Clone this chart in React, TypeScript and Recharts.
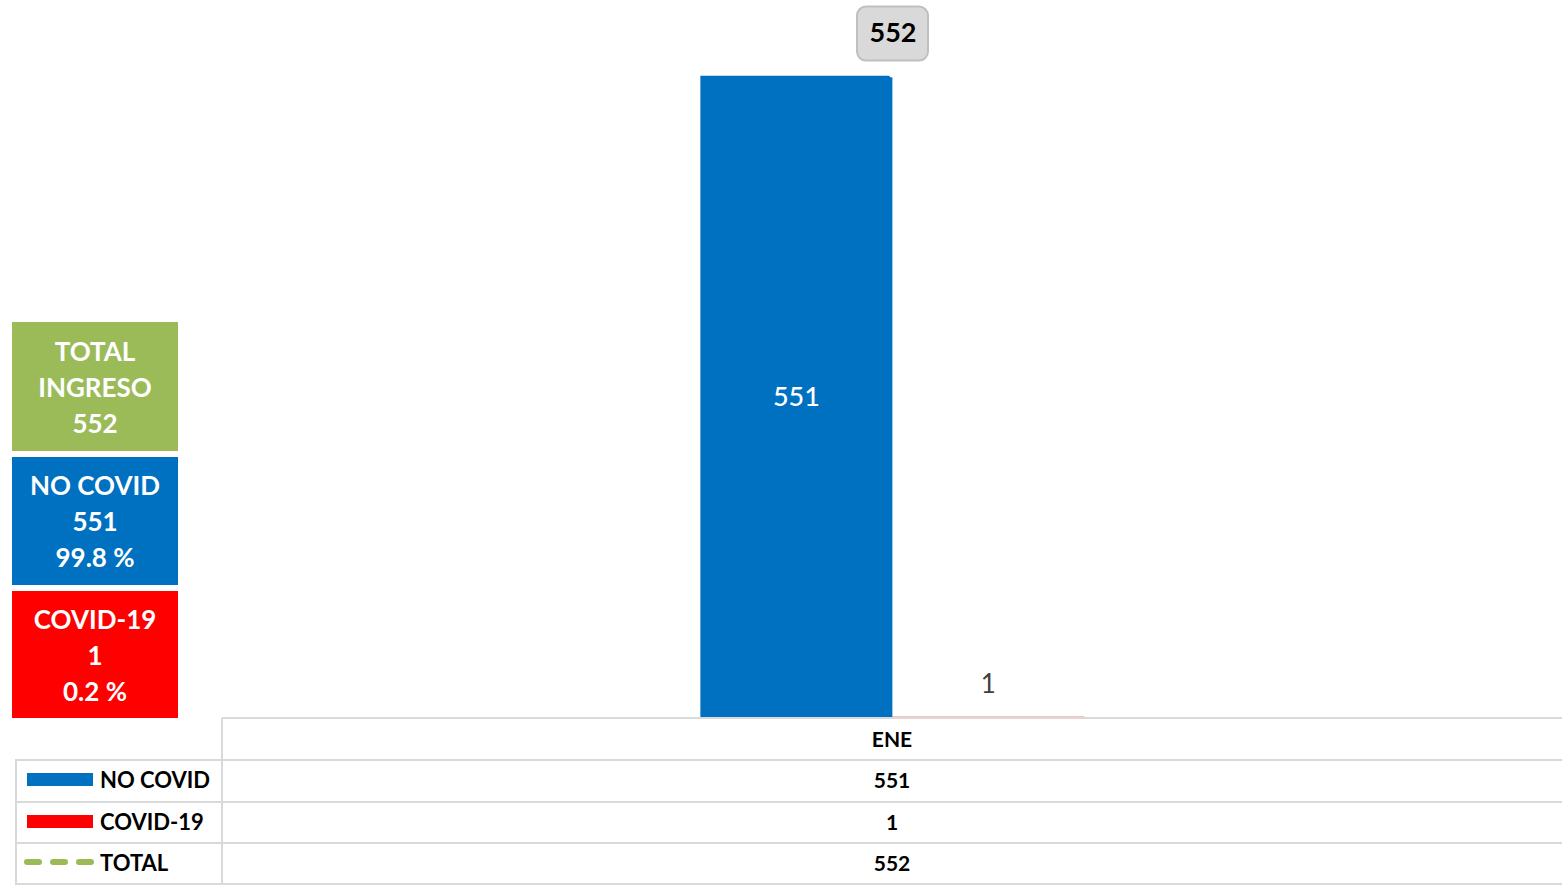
import { ComposedChart, Bar, Line, XAxis, YAxis, LabelList } from 'recharts'

const categories = ['ENE']
const noCovid = [551]
const covid = [1]
const total = [552]

const BLUE = '#0070C0'
const RED = '#FF0000'
const GREEN = '#9BBB59'
const FONT = 'Lato, "Open Sans", sans-serif'
const GRID = '#d9d9d9'

const data = categories.map((month, i) => ({
  month,
  noCovid: noCovid[i],
  covid: covid[i],
  total: total[i],
}))

const sumTotal = total.reduce((a, b) => a + b, 0)
const sumNo = noCovid.reduce((a, b) => a + b, 0)
const sumCovid = covid.reduce((a, b) => a + b, 0)
const pct = (v: number) => `${((v / sumTotal) * 100).toFixed(1)} %`

function TotalBadge(props: any) {
  const { x, y, value } = props
  const cy = y - 41
  return (
    <g>
      <rect x={x - 35} y={cy - 27} width={71} height={54} rx={9} fill="#d9d9d9" stroke="#bfbfbf" strokeWidth={2} />
      <text x={x + 1} y={cy + 1} textAnchor="middle" dominantBaseline="middle" fontFamily={FONT} fontWeight={700} fontSize={27} fill="#000">
        {value}
      </text>
    </g>
  )
}

function SmallLabel(props: any) {
  const { x, y, width, value } = props
  return (
    <text x={x + width / 2} y={y - 30} textAnchor="middle" dominantBaseline="middle" fontFamily={FONT} fontSize={26} fill="#404040">
      {value}
    </text>
  )
}

const boxStyle = (bg: string, top: number, h: number): React.CSSProperties => ({
  position: 'absolute',
  left: 12,
  top,
  width: 166,
  height: h,
  background: bg,
  color: '#fff',
  fontFamily: FONT,
  fontWeight: 700,
  fontSize: 26,
  lineHeight: '36px',
  textAlign: 'center',
  display: 'flex',
  flexDirection: 'column',
  justifyContent: 'center',
})

const rows = [
  { name: 'NO COVID', values: noCovid, swatch: 'bar', color: BLUE },
  { name: 'COVID-19', values: covid, swatch: 'bar', color: RED },
  { name: 'TOTAL', values: total, swatch: 'dash', color: GREEN },
]

export default function App() {
  return (
    <div style={{ position: 'absolute', left: 0, top: 0, width: 1562, height: 886, background: '#fff', overflow: 'hidden' }}>
      <ComposedChart
        width={1562}
        height={886}
        data={data}
        margin={{ top: 0, right: 0, left: 222, bottom: 126 }}
        barCategoryGap="35.7%"
        barGap={0}
      >
        <XAxis
          dataKey="month"
          axisLine={{ stroke: GRID, strokeWidth: 2 }}
          tickLine={false}
          tick={{ fontFamily: FONT, fontWeight: 700, fontSize: 21, fill: '#000' }}
          tickMargin={8}
          height={42}
        />
        <YAxis hide domain={[0, 616]} />
        <Bar dataKey="noCovid" name="NO COVID" fill={BLUE} isAnimationActive={false}>
          <LabelList dataKey="noCovid" position="center" fill="#fff" fontFamily={FONT} fontWeight={500} fontSize={27} />
        </Bar>
        <Bar dataKey="covid" name="COVID-19" fill={RED} isAnimationActive={false}>
          <LabelList dataKey="covid" content={<SmallLabel />} />
        </Bar>
        {/* a single month gives no visible segment for the dashed total line */}
        <Line
          dataKey="total"
          name="TOTAL"
          stroke={GREEN}
          strokeOpacity={0}
          strokeWidth={4}
          strokeDasharray="10 8"
          dot={false}
          activeDot={false}
          isAnimationActive={false}
        >
          <LabelList dataKey="total" content={<TotalBadge />} />
        </Line>
      </ComposedChart>

      {/* summary boxes */}
      <div style={boxStyle(GREEN, 322, 129)}>
        <div>TOTAL</div>
        <div>INGRESO</div>
        <div>{sumTotal}</div>
      </div>
      <div style={boxStyle(BLUE, 457, 128)}>
        <div>NO COVID</div>
        <div>{sumNo}</div>
        <div>{pct(sumNo)}</div>
      </div>
      <div style={boxStyle(RED, 591, 127)}>
        <div>COVID-19</div>
        <div>{sumCovid}</div>
        <div>{pct(sumCovid)}</div>
      </div>

      {/* data table */}
      <div style={{ position: 'absolute', left: 221, top: 718, width: 2, height: 167, background: GRID }} />
      <div style={{ position: 'absolute', left: 15, top: 759, width: 2, height: 126, background: GRID }} />
      {rows.map((r, i) => {
        const top = 759 + i * 41.5
        return (
          <div key={r.name}>
            <div style={{ position: 'absolute', left: 15, top, width: 1547, height: 2, background: GRID }} />
            {r.swatch === 'bar' ? (
              <div style={{ position: 'absolute', left: 27, top: top + 14, width: 66, height: 13, background: r.color }} />
            ) : (
              <svg style={{ position: 'absolute', left: 22, top: top + 15 }} width={74} height={10}>
                <line x1={5} y1={5} x2={70} y2={5} stroke={r.color} strokeWidth={6} strokeLinecap="round" strokeDasharray="12 14" />
              </svg>
            )}
            <div
              style={{
                position: 'absolute',
                left: 100,
                top,
                height: 42,
                lineHeight: '42px',
                fontFamily: FONT,
                fontWeight: 700,
                fontSize: 22,
                color: '#000',
              }}
            >
              {r.name}
            </div>
            {r.values.map((v, j) => (
              <div
                key={j}
                style={{
                  position: 'absolute',
                  left: 222 + (1340 / categories.length) * j,
                  width: 1340 / categories.length,
                  top,
                  height: 42,
                  lineHeight: '42px',
                  textAlign: 'center',
                  fontFamily: FONT,
                  fontWeight: 700,
                  fontSize: 21,
                  color: '#000',
                }}
              >
                {v}
              </div>
            ))}
          </div>
        )
      })}
      <div style={{ position: 'absolute', left: 15, top: 883, width: 1547, height: 2, background: GRID }} />
    </div>
  )
}
